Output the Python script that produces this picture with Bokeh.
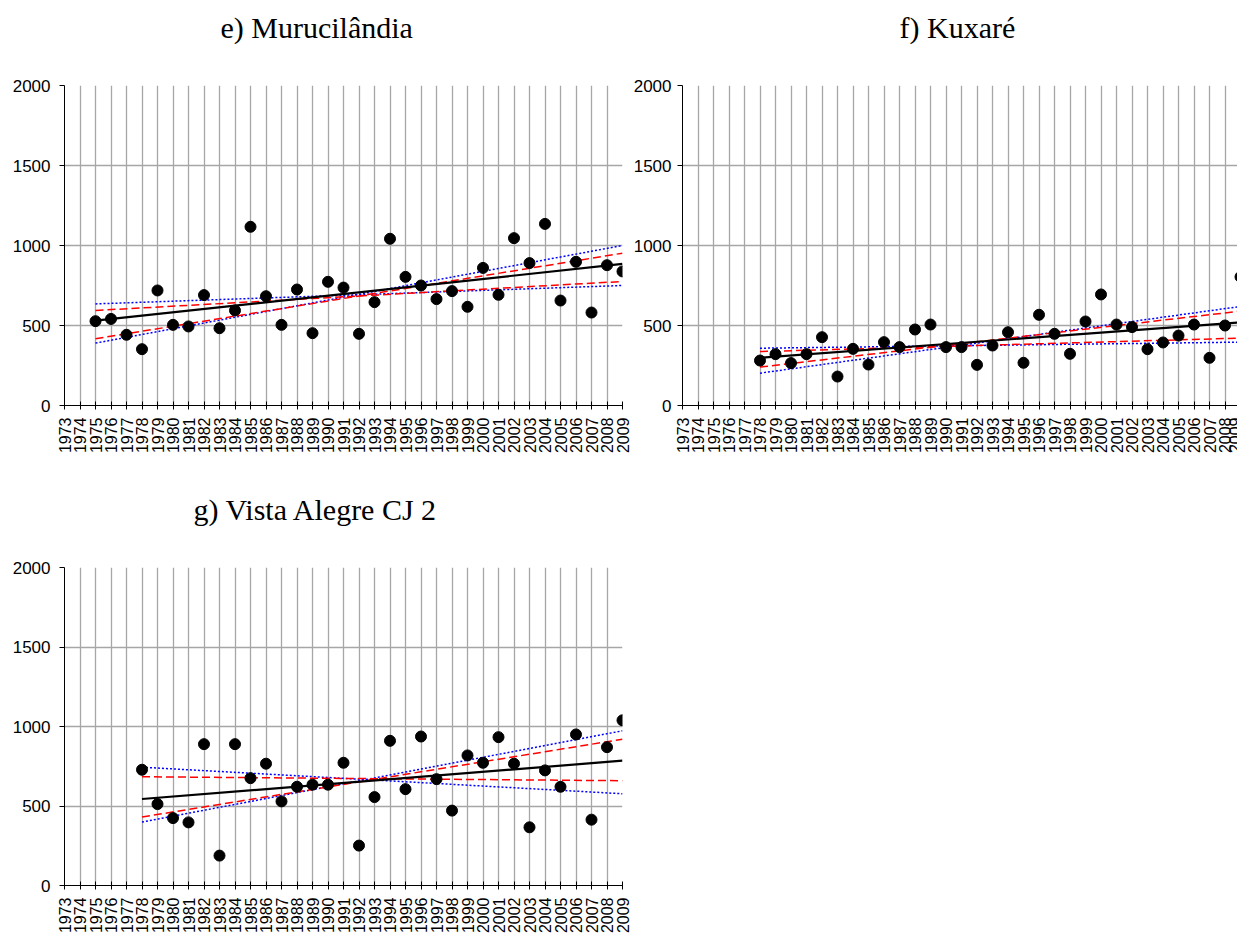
import math
from bokeh.plotting import figure
from bokeh.models import Range1d, FixedTicker, Title
from bokeh.layouts import column, row
from bokeh.embed import file_html
from bokeh.resources import INLINE

# ---------------- data ----------------
year_ticks = list(range(1973, 2010))
y_ticks = [0, 500, 1000, 1500, 2000]

# e) Murucilândia
e_title = "e) Murucilândia"
e_years = list(range(1975, 2010))
e_values = [527, 541, 442, 352, 719, 504, 494, 690, 483, 594, 1117, 683, 504, 725, 452,
            773, 737, 448, 646, 1042, 804, 750, 665, 715, 617, 860, 692, 1046, 890, 1135,
            656, 898, 581, 877, 838]
e_fit_years = [1975, 2009]
e_sen = [530, 885]
e_red_a = [594, 775]
e_red_b = [417, 952]
e_blue_a = [635, 750]
e_blue_b = [390, 1000]

# f) Kuxaré
f_title = "f) Kuxaré"
f_years = list(range(1978, 2010))
f_values = [281, 321, 265, 321, 427, 181, 354, 256, 396, 365, 475, 506, 365, 365, 254, 375,
            458, 267, 567, 448, 323, 525, 694, 506, 490, 352, 394, 437, 506, 298, 500, 804]
f_fit_years = [1978, 2009]
f_sen = [298, 520]
f_red_a = [337, 421]
f_red_b = [240, 590]
f_blue_a = [358, 396]
f_blue_b = [202, 619]

# g) Vista Alegre CJ 2
g_title = "g) Vista Alegre CJ 2"
g_years = list(range(1978, 2010))
g_values = [728, 512, 424, 397, 889, 188, 889, 675, 766, 529, 621, 634, 634, 772, 251, 556,
            910, 606, 937, 669, 471, 818, 772, 933, 766, 366, 724, 621, 950, 414, 870, 1039]
g_fit_years = [1978, 2009]
g_sen = [544, 785]
g_red_a = [684, 659]
g_red_b = [431, 920]
g_blue_a = [744, 577]
g_blue_b = [399, 973]


def make_panel(title, years, values, fit_years, sen, red_a, red_b, blue_a, blue_b,
               frame_w, frame_h, b_left, b_right, b_top, b_bottom, title_offset, y_standoff):
    p = figure(frame_width=frame_w, frame_height=frame_h,
               min_border_left=b_left, min_border_right=b_right,
               min_border_top=b_top, min_border_bottom=b_bottom,
               x_range=Range1d(1973, 2009), y_range=Range1d(0, 2000),
               output_backend="svg", toolbar_location=None)
    p.outline_line_color = None
    p.background_fill_color = "white"
    p.border_fill_color = "white"

    # grid
    p.xgrid.ticker = FixedTicker(ticks=year_ticks)
    p.ygrid.ticker = FixedTicker(ticks=y_ticks)
    for g in (p.xgrid, p.ygrid):
        g.grid_line_color = "#a6a6a6"
        g.grid_line_width = 1.3

    # axes
    xa = p.xaxis[0]
    xa.ticker = FixedTicker(ticks=year_ticks)
    xa.major_label_orientation = math.pi / 2
    xa.major_label_text_font = "Liberation Sans"
    xa.major_label_text_font_size = "16px"
    xa.major_label_text_color = "#000000"
    xa.major_label_standoff = 8
    xa.major_tick_in = 4
    xa.major_tick_out = 4
    xa.minor_tick_line_color = None
    xa.axis_line_color = "black"
    xa.major_tick_line_color = "black"

    ya = p.yaxis[0]
    ya.ticker = FixedTicker(ticks=y_ticks)
    ya.major_label_text_font = "Liberation Sans"
    ya.major_label_text_font_size = "17px"
    ya.major_label_text_color = "#000000"
    ya.major_label_standoff = y_standoff
    ya.major_tick_in = 0
    ya.major_tick_out = 5
    ya.minor_tick_line_color = None
    ya.axis_line_color = "black"
    ya.major_tick_line_color = "black"

    # confidence / trend lines
    p.line(fit_years, blue_a, line_color="#0000ff", line_width=1.5, line_dash="2 2")
    p.line(fit_years, blue_b, line_color="#0000ff", line_width=1.5, line_dash="2 2")
    p.line(fit_years, red_a, line_color="#ff0000", line_width=1.5, line_dash="8 4")
    p.line(fit_years, red_b, line_color="#ff0000", line_width=1.5, line_dash="8 4")
    p.line(fit_years, sen, line_color="black", line_width=2.2)

    # data points
    p.scatter(years, values, size=11, marker="circle", fill_color="black", line_color="black")

    # blank spacer panel (closest to the frame) that lifts the title upwards
    p.add_layout(Title(text=" ", text_font_size="10px", standoff=29), "above")
    p.add_layout(Title(text=title, align="left", offset=title_offset, standoff=0,
                       vertical_align="bottom",
                       text_font="Liberation Serif", text_font_size="30px",
                       text_font_style="normal", text_color="black"), "above")
    return p


pe = make_panel(e_title, e_years, e_values, e_fit_years, e_sen, e_red_a, e_red_b, e_blue_a, e_blue_b,
                558, 320, 64, 8, 85, 50, 156, 9)
pf = make_panel(f_title, f_years, f_values, f_fit_years, f_sen, f_red_a, f_red_b, f_blue_a, f_blue_b,
                558, 320, 49, 0, 85, 50, 217, 6)
pg = make_panel(g_title, g_years, g_values, g_fit_years, g_sen, g_red_a, g_red_b, g_blue_a, g_blue_b,
                558, 318, 64, 12, 111, 50, 129, 9)

layout = column(row(pe, pf), pg)

open("out.html", "w").write(file_html(layout, INLINE))
